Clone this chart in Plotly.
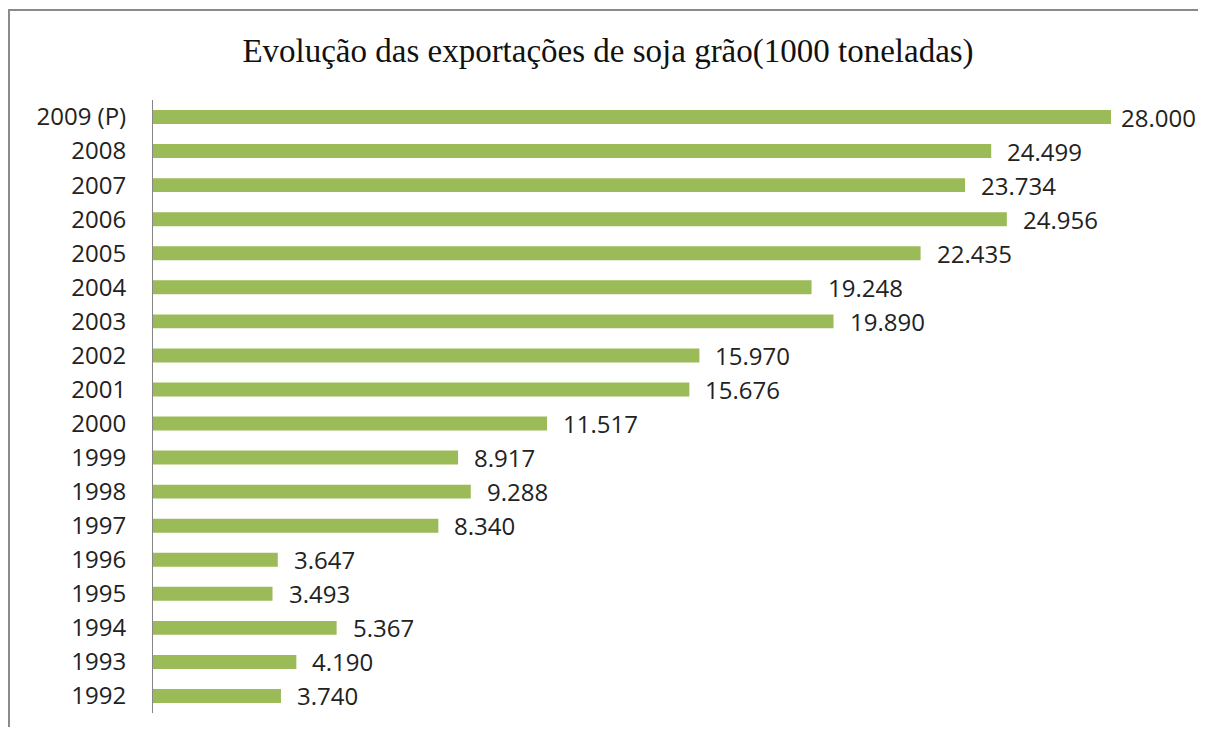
import plotly.graph_objects as go

years = ["1992", "1993", "1994", "1995", "1996", "1997", "1998", "1999", "2000",
         "2001", "2002", "2003", "2004", "2005", "2006", "2007", "2008", "2009 (P)"]
values = [3740, 4190, 5367, 3493, 3647, 8340, 9288, 8917, 11517,
          15676, 15970, 19890, 19248, 22435, 24956, 23734, 24499, 28000]
labels = ["3.740", "4.190", "5.367", "3.493", "3.647", "8.340", "9.288", "8.917", "11.517",
          "15.676", "15.970", "19.890", "19.248", "22.435", "24.956", "23.734", "24.499", "28.000"]

# page has an 8px body margin; figure sized to fit the window
W, H = 1190, 719
ml, mr, mt, mb = 145, 12, 92, 14
pw = W - ml - mr
ph = H - mt - mb
xmax = 28000 * pw / 958.0

fig = go.Figure(go.Bar(
    y=years, x=values, orientation="h",
    marker=dict(color="#9BBB59", line=dict(width=0)),
    width=0.41,
))

n = len(values)
for i, (v, t) in enumerate(zip(values, labels)):
    fig.add_annotation(x=v, y=i, xref="x", yref="y", text=t, showarrow=False,
                       xanchor="left", xshift=8 if i == n - 1 else 14,
                       font=dict(family="Open Sans", size=24, color="#222222"))

def px_x(p):
    return (p - ml) / pw

def px_y(p):
    return (H - mb - p) / ph

fig.add_shape(type="rect", xref="paper", yref="paper",
              x0=px_x(1), x1=px_x(1210), y0=px_y(740), y1=px_y(2),
              line=dict(color="#8a8a8a", width=2), fillcolor="rgba(0,0,0,0)")

fig.update_layout(
    width=W, height=H,
    margin=dict(l=ml, r=mr, t=mt, b=mb),
    paper_bgcolor="white", plot_bgcolor="white",
    showlegend=False,
    title=dict(text="Evolução das exportações de soja grão(1000 toneladas)",
               x=600 / W, xref="container", xanchor="center", y=1 - 42 / H, yanchor="middle",
               font=dict(family="Liberation Serif", size=33, color="#111111")),
    xaxis=dict(range=[0, xmax], visible=False, showgrid=False, zeroline=False),
    yaxis=dict(type="category", categoryorder="array", categoryarray=years,
               range=[-0.5, 17.5], showline=True, linecolor="#868686", linewidth=1,
               ticks="outside", ticklen=21, tickcolor="rgba(0,0,0,0)", showgrid=False,
               tickfont=dict(family="Open Sans", size=24, color="#222222")),
)
fig.write_html("out.html")
